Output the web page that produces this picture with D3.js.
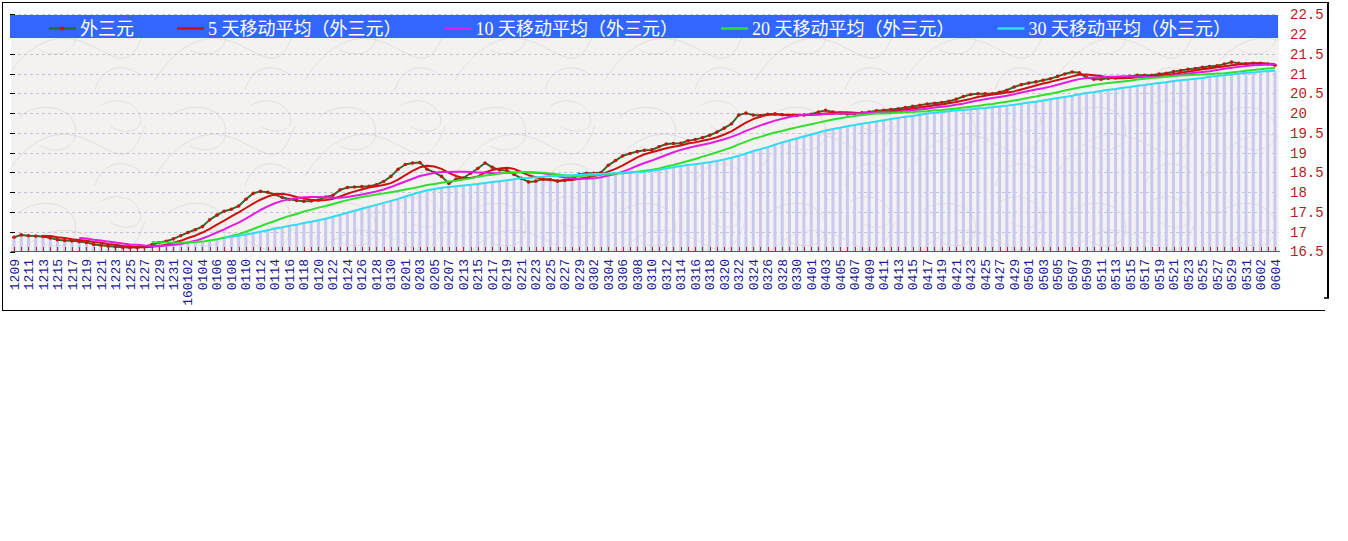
<!DOCTYPE html>
<html><head><meta charset="utf-8">
<script src="https://cdn.jsdelivr.net/npm/d3@7"></script>
<style>html,body{margin:0;padding:0;background:#fff;}svg{display:block;}</style>
</head><body>
<svg id="chart" width="1348" height="541"></svg>
<script>
const categories = [
"1209","1210","1211","1212","1213","1214","1215","1216","1217","1218","1219","1220","1221","1222","1223","1224","1225","1226","1227","1228","1229","1230","1231",
"0101","160102","0103","0104","0105","0106","0107","0108","0109","0110","0111","0112","0113","0114","0115","0116","0117","0118","0119","0120","0121","0122","0123","0124","0125","0126","0127","0128","0129","0130","0131",
"0201","0202","0203","0204","0205","0206","0207","0212","0213","0214","0215","0216","0217","0218","0219","0220","0221","0222","0223","0224","0225","0226","0227","0228","0229",
"0301","0302","0303","0304","0305","0306","0307","0308","0309","0310","0311","0312","0313","0314","0315","0316","0317","0318","0319","0320","0321","0322","0323","0324","0325","0326","0327","0328","0329","0330","0331",
"0401","0402","0403","0404","0405","0406","0407","0408","0409","0410","0411","0412","0413","0414","0415","0416","0417","0418","0419","0420","0421","0422","0423","0424","0425","0426","0427","0428","0429","0430",
"0501","0502","0503","0504","0505","0506","0507","0508","0509","0510","0511","0512","0513","0514","0515","0516","0517","0518","0519","0520","0521","0522","0523","0524","0525","0526","0527","0528","0529","0530","0531",
"0601","0602","0603","0604"];

const priceSeries = [
16.86,16.92,16.90,16.89,16.88,16.84,16.80,16.78,16.77,16.75,
16.73,16.68,16.66,16.64,16.62,16.61,16.60,16.60,16.62,16.67,
16.72,16.76,16.82,16.90,16.98,17.05,17.13,17.30,17.42,17.52,
17.57,17.65,17.82,17.97,18.02,18.00,17.94,17.87,17.82,17.79,
17.77,17.78,17.80,17.88,17.92,18.06,18.12,18.13,18.14,18.15,
18.19,18.27,18.40,18.58,18.70,18.74,18.75,18.58,18.50,18.40,
18.22,18.33,18.36,18.48,18.60,18.74,18.63,18.56,18.55,18.45,
18.35,18.26,18.28,18.33,18.32,18.28,18.30,18.33,18.45,18.48,
18.48,18.50,18.68,18.80,18.92,18.98,19.03,19.06,19.07,19.15,
19.22,19.23,19.24,19.30,19.33,19.38,19.44,19.52,19.62,19.73,
19.95,20.00,19.95,19.94,19.97,19.98,19.96,19.94,19.94,19.95,
19.97,20.03,20.07,20.03,20.00,19.98,19.99,20.01,20.03,20.06,
20.07,20.09,20.11,20.14,20.17,20.20,20.23,20.25,20.27,20.30,
20.35,20.42,20.47,20.49,20.49,20.49,20.53,20.58,20.66,20.72,
20.76,20.79,20.83,20.87,20.93,20.99,21.04,21.02,20.90,20.86,
20.86,20.88,20.89,20.90,20.93,20.96,20.96,20.96,20.99,21.01,
21.05,21.08,21.11,21.13,21.16,21.18,21.20,21.24,21.29,21.26,
21.25,21.26,21.26,21.24,21.21];

const ma5Series = [null,null,null,null,
16.89,16.89,16.86,16.84,16.81,16.79,
16.77,16.74,16.72,16.69,16.67,16.64,16.63,16.61,16.61,16.62,
16.64,16.67,16.72,16.77,16.84,16.90,16.98,17.07,17.18,17.28,
17.39,17.49,17.60,17.71,17.81,17.89,17.95,17.96,17.93,17.88,
17.84,17.81,17.79,17.80,17.83,17.89,17.96,18.02,18.07,18.12,
18.15,18.18,18.23,18.32,18.43,18.54,18.63,18.67,18.65,18.59,
18.49,18.41,18.36,18.36,18.40,18.50,18.56,18.60,18.62,18.59,
18.51,18.43,18.38,18.33,18.31,18.29,18.30,18.31,18.34,18.37,
18.41,18.45,18.52,18.59,18.68,18.78,18.88,18.96,19.01,19.06,
19.11,19.15,19.18,19.23,19.26,19.30,19.34,19.39,19.46,19.54,
19.65,19.76,19.85,19.91,19.96,19.97,19.96,19.96,19.96,19.95,
19.95,19.97,19.99,20.01,20.02,20.02,20.01,20.00,20.00,20.01,
20.03,20.05,20.07,20.09,20.12,20.14,20.17,20.20,20.22,20.25,
20.28,20.32,20.36,20.41,20.44,20.47,20.49,20.52,20.55,20.60,
20.65,20.70,20.75,20.79,20.84,20.88,20.93,20.97,20.98,20.96,
20.94,20.90,20.88,20.88,20.89,20.91,20.93,20.94,20.96,20.98,
20.99,21.02,21.05,21.08,21.11,21.13,21.16,21.18,21.21,21.23,
21.25,21.26,21.26,21.25,21.24];

const ma10Series = [null,null,null,null,null,null,null,null,null,
16.84,
16.83,16.80,16.78,16.75,16.73,16.70,16.68,16.67,16.65,16.64,
16.64,16.65,16.67,16.69,16.73,16.77,16.83,16.90,16.98,17.06,
17.15,17.23,17.33,17.44,17.55,17.64,17.72,17.78,17.82,17.85,
17.87,17.88,17.88,17.87,17.86,17.86,17.88,17.91,17.94,17.98,
18.02,18.07,18.13,18.20,18.27,18.34,18.41,18.45,18.49,18.51,
18.51,18.52,18.52,18.51,18.50,18.50,18.48,18.48,18.49,18.49,
18.51,18.50,18.49,18.48,18.45,18.40,18.37,18.35,18.34,18.34,
18.35,18.38,18.42,18.46,18.52,18.59,18.67,18.74,18.80,18.87,
18.94,19.01,19.07,19.12,19.16,19.20,19.24,19.29,19.34,19.40,
19.47,19.55,19.62,19.69,19.75,19.81,19.86,19.90,19.94,19.96,
19.96,19.96,19.98,19.98,19.99,19.99,19.99,20.00,20.01,20.02,
20.03,20.03,20.04,20.05,20.07,20.09,20.11,20.14,20.16,20.18,
20.21,20.24,20.28,20.32,20.35,20.38,20.41,20.44,20.48,20.52,
20.56,20.60,20.63,20.67,20.72,20.77,20.82,20.86,20.89,20.90,
20.91,20.92,20.92,20.93,20.93,20.92,20.92,20.91,20.92,20.93,
20.95,20.97,21.00,21.02,21.04,21.06,21.09,21.12,21.15,21.17,
21.19,21.21,21.22,21.23,21.24];

const ma20Series = [null,null,null,null,null,null,null,null,null,null,
null,null,null,null,null,null,null,null,null,
16.74,
16.73,16.73,16.72,16.72,16.73,16.74,16.75,16.78,16.81,16.85,
16.89,16.94,17.00,17.07,17.14,17.21,17.27,17.34,17.40,17.45,
17.51,17.56,17.61,17.65,17.70,17.75,17.80,17.84,17.88,17.91,
17.94,17.97,18.00,18.03,18.07,18.10,18.14,18.18,18.21,18.24,
18.27,18.29,18.32,18.35,18.39,18.42,18.44,18.47,18.49,18.50,
18.51,18.51,18.50,18.49,18.47,18.45,18.43,18.41,18.41,18.42,
18.43,18.44,18.45,18.47,18.48,18.50,18.52,18.54,18.57,18.60,
18.65,18.69,18.74,18.79,18.84,18.90,18.95,19.01,19.07,19.13,
19.21,19.28,19.35,19.40,19.46,19.51,19.55,19.60,19.64,19.68,
19.72,19.76,19.80,19.84,19.87,19.90,19.93,19.95,19.97,19.99,
19.99,20.00,20.01,20.02,20.03,20.04,20.05,20.07,20.08,20.10,
20.12,20.14,20.16,20.18,20.21,20.23,20.26,20.29,20.32,20.35,
20.39,20.42,20.46,20.49,20.53,20.57,20.61,20.65,20.68,20.71,
20.74,20.76,20.78,20.80,20.82,20.85,20.87,20.89,20.90,20.92,
20.93,20.95,20.96,20.97,20.98,20.99,21.00,21.01,21.03,21.05,
21.07,21.09,21.11,21.13,21.14];

const ma30Series = [null,null,null,null,null,null,null,null,null,null,
null,null,null,null,null,null,null,null,null,null,
null,null,null,null,null,null,null,null,null,
16.85,
16.87,16.90,16.93,16.96,17.00,17.04,17.08,17.11,17.15,17.18,
17.22,17.25,17.29,17.33,17.38,17.43,17.48,17.53,17.58,17.63,
17.68,17.73,17.78,17.83,17.89,17.95,18.00,18.05,18.08,18.11,
18.13,18.15,18.17,18.19,18.21,18.23,18.26,18.28,18.30,18.33,
18.35,18.36,18.38,18.39,18.41,18.41,18.42,18.43,18.44,18.45,
18.46,18.46,18.47,18.48,18.49,18.50,18.51,18.52,18.54,18.57,
18.60,18.63,18.66,18.69,18.71,18.73,18.76,18.79,18.83,18.87,
18.92,18.98,19.04,19.09,19.14,19.20,19.26,19.31,19.36,19.41,
19.46,19.51,19.56,19.60,19.63,19.67,19.70,19.73,19.76,19.79,
19.82,19.85,19.88,19.91,19.93,19.96,19.99,20.01,20.03,20.05,
20.07,20.08,20.10,20.12,20.13,20.15,20.17,20.19,20.21,20.24,
20.27,20.29,20.32,20.35,20.38,20.41,20.44,20.48,20.51,20.53,
20.56,20.59,20.61,20.64,20.66,20.69,20.71,20.74,20.76,20.78,
20.81,20.83,20.85,20.87,20.89,20.92,20.94,20.96,20.98,21.00,
21.02,21.03,21.05,21.06,21.07];

const yTickValues = [16.5,17,17.5,18,18.5,19,19.5,20,20.5,21,21.5,22,22.5];
const seriesNames = ["外三元","5 天移动平均（外三元）","10 天移动平均（外三元）","20 天移动平均（外三元）","30 天移动平均（外三元）"];
const seriesColors = ["#2a6e2a","#cc1111","#e31be3","#2fe02f","#2fdcf0"];

const allSeries = [priceSeries, ma5Series, ma10Series, ma20Series, ma30Series];

const svg = d3.select("#chart");
const x = d3.scalePoint().domain(categories).range([14, 1275]);
const y = d3.scaleLinear().domain([16.5, 22.5]).range([251.5, 14.3]);

// faint paper texture pattern (decorative background)
const defs = svg.append("defs");
const pat = defs.append("pattern").attr("id", "paper").attr("patternUnits", "userSpaceOnUse")
  .attr("width", 150).attr("height", 96);
pat.append("rect").attr("width", 150).attr("height", 96).attr("fill", "#f4f2f1");
const swirl = pat.append("g").attr("fill", "none").attr("stroke", "#dcd8d8").attr("stroke-width", 0.8);
swirl.append("path").attr("d", "M5,80 C30,40 60,30 90,45 S130,70 145,30");
swirl.append("path").attr("d", "M20,20 C40,5 70,10 75,30 S60,60 40,50");
swirl.append("path").attr("d", "M95,90 C100,70 120,60 140,75");
swirl.append("path").attr("d", "M100,10 C115,0 135,5 140,20 S125,40 110,30");

// outer frame
const frame = svg.append("g").attr("stroke", "#000").attr("fill", "none");
frame.append("line").attr("x1", 2).attr("y1", 2.5).attr("x2", 1328).attr("y2", 2.5).attr("stroke-width", 1);
frame.append("line").attr("x1", 2.5).attr("y1", 2).attr("x2", 2.5).attr("y2", 310.5).attr("stroke-width", 1);
frame.append("line").attr("x1", 2).attr("y1", 310.5).attr("x2", 1325).attr("y2", 310.5).attr("stroke-width", 1);
frame.append("line").attr("x1", 1328).attr("y1", 2).attr("x2", 1328).attr("y2", 298).attr("stroke-width", 2);
frame.append("line").attr("x1", 1324).attr("y1", 298).attr("x2", 1329).attr("y2", 298).attr("stroke-width", 1.5);

// plot background
svg.append("rect").attr("x", 11).attr("y", 15).attr("width", 1268).attr("height", y(16.5) - 15)
  .attr("fill", "url(#paper)");

// gridlines
svg.append("g").selectAll("line").data(yTickValues.filter(v => v > 16.5)).join("line")
  .attr("x1", 12).attr("x2", 1278)
  .attr("y1", d => Math.round(y(d)) + 0.5).attr("y2", d => Math.round(y(d)) + 0.5)
  .attr("stroke", "#c2c2dc").attr("stroke-width", 1).attr("stroke-dasharray", "3,3");

// left ticks
svg.append("g").selectAll("line").data(yTickValues).join("line")
  .attr("x1", 10).attr("x2", 15)
  .attr("y1", d => Math.round(y(d)) + 0.5).attr("y2", d => Math.round(y(d)) + 0.5)
  .attr("stroke", "#000").attr("stroke-width", 1);

// bars (lowest defined value per category)
const barTops = categories.map((c, i) => {
  const vals = allSeries.map(s => s[i]).filter(v => v != null);
  return d3.min(vals);
});
svg.append("g").selectAll("rect").data(categories).join("rect")
  .attr("x", d => x(d) - 1.5)
  .attr("width", 3)
  .attr("y", (d, i) => y(barTops[i]))
  .attr("height", (d, i) => y(16.5) - y(barTops[i]))
  .attr("fill", "#c8c8f0");

// baseline with red ticks
const base = svg.append("g").attr("stroke", "#c42a2a").attr("stroke-width", 1);
base.append("line").attr("x1", 11).attr("x2", 1280).attr("y1", 251.5).attr("y2", 251.5);
base.selectAll("line.t").data(categories).join("line").attr("class", "t")
  .attr("x1", d => Math.round(x(d)) + 0.5).attr("x2", d => Math.round(x(d)) + 0.5)
  .attr("y1", 247).attr("y2", 251.5);

// lines
const lineGen = d3.line()
  .defined(d => d.v != null)
  .x(d => x(d.c))
  .y(d => y(d.v));
allSeries.forEach((s, k) => {
  const pts = categories.map((c, i) => ({ c: c, v: s[i] }));
  svg.append("path").datum(pts)
    .attr("d", lineGen)
    .attr("fill", "none")
    .attr("stroke", seriesColors[k])
    .attr("stroke-width", 2)
    .attr("stroke-linejoin", "round");
  if (k === 0) {
    svg.append("g").selectAll("circle").data(pts).join("circle")
      .attr("cx", d => x(d.c)).attr("cy", d => y(d.v)).attr("r", 1.8)
      .attr("fill", "#d01010");
  }
});

// right axis labels
const yAxis = d3.axisRight(y).tickValues(yTickValues).tickSize(0).tickPadding(0)
  .tickFormat(d => (d % 1 === 0 ? String(d) : d.toFixed(1)));
const yg = svg.append("g").attr("transform", "translate(1290,0)").call(yAxis);
yg.select(".domain").remove();
yg.selectAll("text").attr("font-family", "'Liberation Mono', monospace").attr("font-size", "14px")
  .attr("fill", "#b41c1c");

// bottom labels (every other category)
const shown = categories.filter((c, i) => i % 2 === 0);
svg.append("g").selectAll("text").data(shown).join("text")
  .attr("transform", d => `translate(${x(d)},259) rotate(-90)`)
  .attr("text-anchor", "end")
  .attr("dy", "0.35em")
  .attr("font-family", "'Liberation Mono', monospace")
  .attr("font-size", "13px")
  .attr("fill", "#1c1c8c")
  .text(d => d);

// legend band
svg.append("rect").attr("x", 10).attr("y", 15).attr("width", 1268).attr("height", 23).attr("fill", "#3366ff");
let lx = 49;
seriesNames.forEach((name, k) => {
  const g = svg.append("g");
  g.append("line").attr("x1", lx).attr("x2", lx + 27).attr("y1", 28.5).attr("y2", 28.5)
    .attr("stroke", seriesColors[k]).attr("stroke-width", 2.5);
  if (k === 0) {
    g.append("circle").attr("cx", lx + 13).attr("cy", 28.5).attr("r", 2).attr("fill", "#d01010");
  }
  const t = g.append("text").attr("x", lx + 31).attr("y", 34.5)
    .attr("font-family", "'Liberation Serif','Noto Sans CJK SC',serif")
    .attr("font-size", "18px").attr("fill", "#fff").text(name);
  lx = lx + 31 + t.node().getComputedTextLength() + 43;
});
</script>
</body></html>
